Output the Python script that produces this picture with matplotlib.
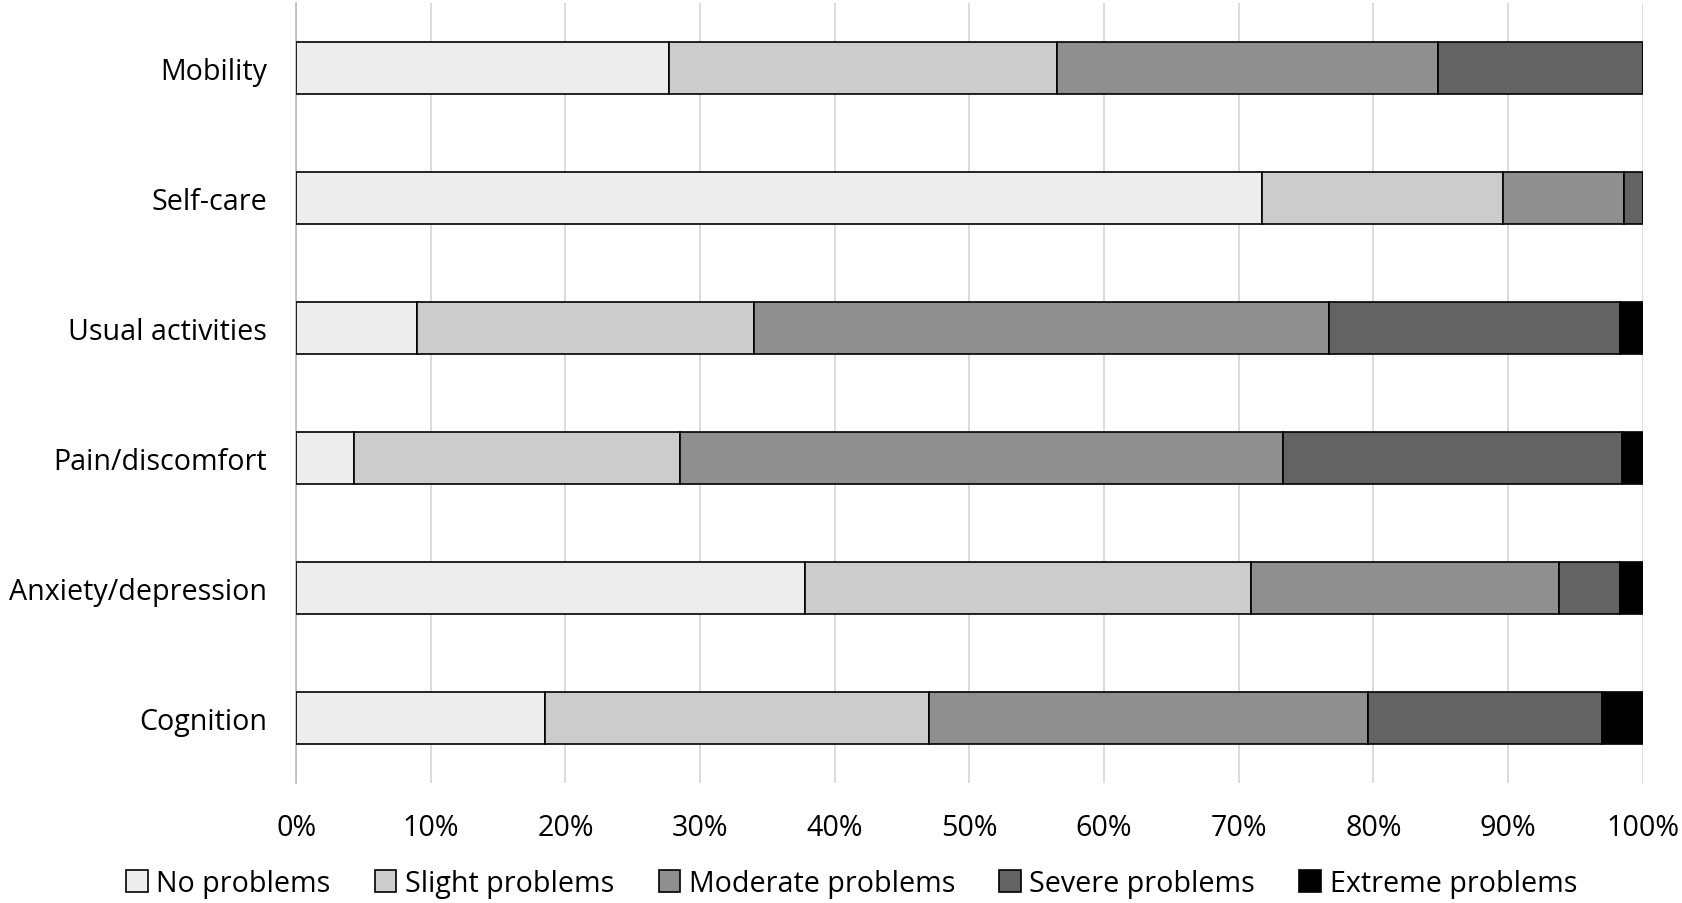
import numpy as np
import matplotlib.pyplot as plt
from matplotlib.ticker import PercentFormatter

# EQ-5D style dimensions, top to bottom
categories = ['Mobility', 'Self-care', 'Usual activities', 'Pain/discomfort',
              'Anxiety/depression', 'Cognition']
levels = ['No problems', 'Slight problems', 'Moderate problems',
          'Severe problems', 'Extreme problems']

# percentages per level
no_problems = [27.7, 71.7, 9.0, 4.3, 37.8, 18.5]
slight_problems = [28.8, 17.9, 25.0, 24.2, 33.1, 28.5]
moderate_problems = [28.3, 9.0, 42.7, 44.8, 22.9, 32.6]
severe_problems = [15.2, 1.4, 21.6, 25.2, 4.5, 17.4]
extreme_problems = [0.0, 0.0, 1.7, 1.5, 1.7, 3.0]

colors = ['#EDEDED', '#CCCCCC', '#8F8F8F', '#636363', '#000000']

plt.rcParams['font.family'] = ['Open Sans', 'DejaVu Sans']

fig = plt.figure(figsize=(16.83, 9.04), dpi=100)
ax = fig.add_axes([0.176, 0.133, 0.8, 0.863])

series = [no_problems, slight_problems, moderate_problems, severe_problems, extreme_problems]
y = np.arange(len(categories))
left = np.zeros(len(categories))
for vals, lab, col in zip(series, levels, colors):
    ax.barh(y, vals, left=left, height=0.4, color=col, edgecolor='black',
            linewidth=1.2, label=lab, zorder=3)
    left += np.array(vals)

ax.set_ylim(len(categories) - 0.5, -0.5)
ax.set_xlim(0, 100)
ax.set_xticks(np.arange(0, 101, 10))
ax.xaxis.set_major_formatter(PercentFormatter(decimals=0))
ax.set_yticks(y)
ax.set_yticklabels(categories)
ax.tick_params(axis='both', length=0, labelsize=20.6, colors='black')
ax.tick_params(axis='x', pad=22)
ax.tick_params(axis='y', pad=21)

ax.grid(axis='x', color='#D9D9D9', linewidth=1.3, zorder=0)
for s in ['top', 'right', 'bottom']:
    ax.spines[s].set_visible(False)
ax.spines['left'].set_color('#BFBFBF')
ax.spines['left'].set_linewidth(1.3)

fig.legend(loc='center', bbox_to_anchor=(0.506, 0.022), ncol=5, frameon=False,
           fontsize=20.6, handlelength=0.75, handleheight=0.8, handletextpad=0.3,
           columnspacing=1.55)

fig.savefig('out.png', dpi=100)
